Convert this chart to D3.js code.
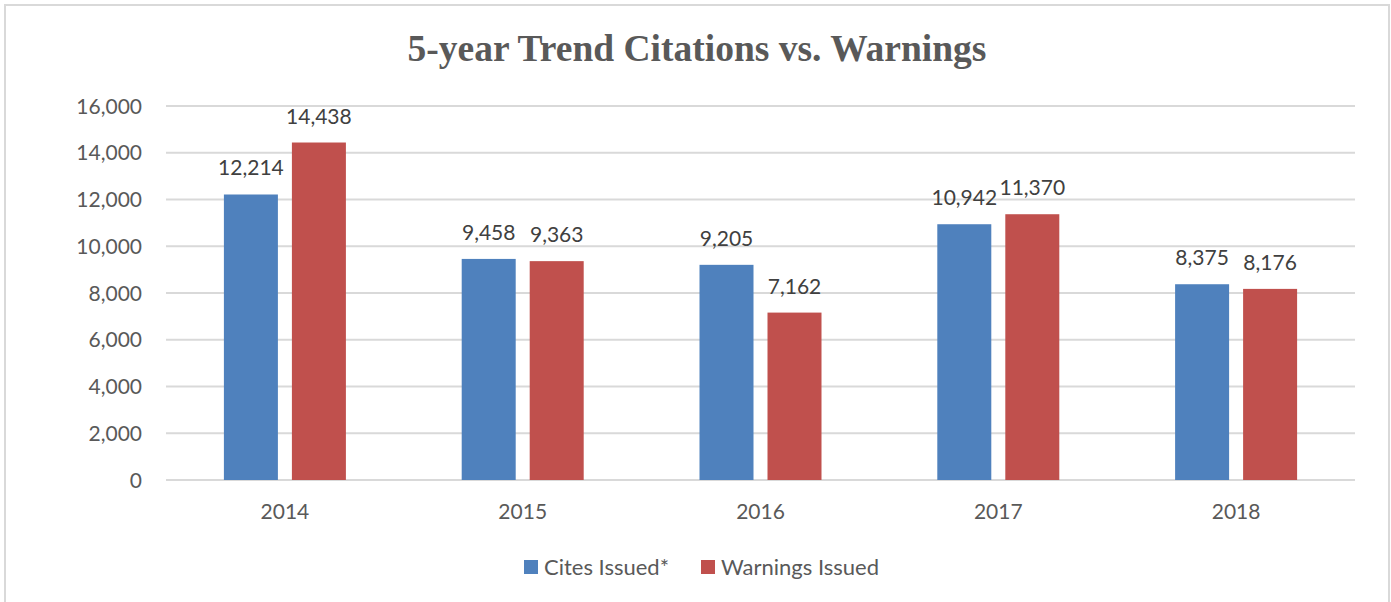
<!DOCTYPE html>
<html>
<head>
<meta charset="utf-8">
<script src="https://cdn.jsdelivr.net/npm/d3@7"></script>
<style>
  body { margin: 0; background: #fff; }
</style>
</head>
<body>
<div class="chart"></div>
<script>
const years = ["2014", "2015", "2016", "2017", "2018"];
const citesIssued = [12214, 9458, 9205, 10942, 8375];
const warningsIssued = [14438, 9363, 7162, 11370, 8176];
const seriesNames = ["Cites Issued*", "Warnings Issued"];
const yTicks = [0, 2000, 4000, 6000, 8000, 10000, 12000, 14000, 16000];

const colors = ["#4F81BD", "#C0504D"];
const labelFont = "Lato, 'Open Sans', sans-serif";

const svg = d3.select(".chart")
  .append("svg")
    .attr("width", 1391)
    .attr("height", 602);

// outer chart border
svg.append("rect")
  .attr("x", 5)
  .attr("y", 5)
  .attr("width", 1384)
  .attr("height", 620)
  .attr("fill", "none")
  .attr("stroke", "#D9D9D9")
  .attr("stroke-width", 2);

svg.append("text")
  .text("5-year Trend Citations vs. Warnings")
  .attr("x", 697)
  .attr("y", 61)
  .attr("text-anchor", "middle")
  .style("font-family", "'Liberation Serif', 'Times New Roman', serif")
  .style("font-weight", "bold")
  .style("font-size", "37.5px")
  .style("fill", "#595959");

const data = years.map((y, i) => ({
  year: y,
  values: [citesIssued[i], warningsIssued[i]]
}));

const xScale = d3.scaleBand()
  .domain(years)
  .range([166, 1355]);

const yScale = d3.scaleLinear()
  .domain([0, 16000])
  .range([480, 106]);

const barW = 54;
const gap = 14;

// gridlines
svg.append("g")
  .selectAll("line")
  .data(yTicks)
  .join("line")
    .attr("x1", 166)
    .attr("x2", 1355)
    .attr("y1", d => yScale(d))
    .attr("y2", d => yScale(d))
    .attr("stroke", "#D9D9D9")
    .attr("stroke-width", 2);

// y tick labels
svg.append("g")
  .selectAll("text")
  .data(yTicks)
  .join("text")
    .text(d => d3.format(",")(d))
    .attr("x", 142)
    .attr("y", d => yScale(d))
    .attr("dy", "0.36em")
    .attr("text-anchor", "end")
    .style("font-family", labelFont)
    .style("font-size", "21px")
    .style("fill", "#595959");

const group = svg.append("g")
  .selectAll("g")
  .data(data)
  .join("g")
    .attr("transform", d => `translate(${xScale(d.year) + xScale.bandwidth() / 2}, 0)`);

group.selectAll("rect")
  .data(d => d.values)
  .join("rect")
    .attr("x", (d, i) => i === 0 ? -gap / 2 - barW : gap / 2)
    .attr("y", d => yScale(d))
    .attr("width", barW)
    .attr("height", d => yScale(0) - yScale(d))
    .attr("fill", (d, i) => colors[i]);

group.selectAll("text.value")
  .data(d => d.values)
  .join("text")
    .attr("class", "value")
    .text(d => d3.format(",")(d))
    .attr("x", (d, i) => i === 0 ? -gap / 2 - barW / 2 : gap / 2 + barW / 2)
    .attr("y", d => yScale(d) - 19)
    .attr("text-anchor", "middle")
    .style("font-family", labelFont)
    .style("font-size", "21px")
    .style("fill", "#404040");

group.append("text")
  .text(d => d.year)
  .attr("x", 0)
  .attr("y", 519)
  .attr("text-anchor", "middle")
  .style("font-family", labelFont)
  .style("font-size", "21px")
  .style("fill", "#595959");

// legend
const legendX = [524, 701];
const legend = svg.append("g")
  .selectAll("g")
  .data(seriesNames)
  .join("g")
    .attr("transform", (d, i) => `translate(${legendX[i]}, 567)`);

legend.append("rect")
  .attr("x", 0)
  .attr("y", -7)
  .attr("width", 14)
  .attr("height", 14)
  .attr("fill", (d, i) => colors[i]);

legend.append("text")
  .text(d => d)
  .attr("x", 20)
  .attr("y", 0)
  .attr("dy", "0.36em")
  .style("font-family", labelFont)
  .style("font-size", "22px")
  .style("fill", "#595959");
</script>
</body>
</html>
